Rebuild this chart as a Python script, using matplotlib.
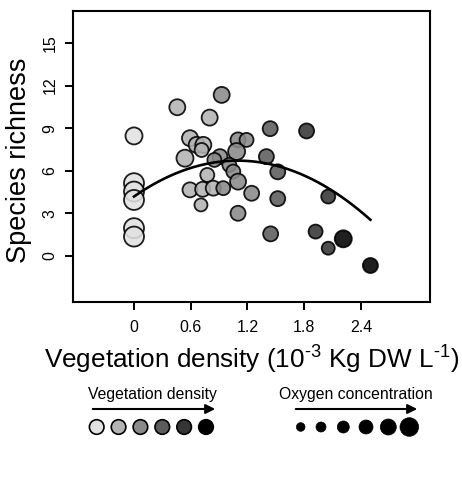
import matplotlib
matplotlib.use("Agg")
import matplotlib.pyplot as plt
import numpy as np

plt.rcParams['font.family'] = ['Liberation Sans', 'DejaVu Sans']
plt.rcParams['mathtext.fontset'] = 'custom'
plt.rcParams['mathtext.rm'] = 'Liberation Sans'
plt.rcParams['mathtext.it'] = 'Liberation Sans:italic'
plt.rcParams['mathtext.bf'] = 'Liberation Sans:bold'

# ---- data ----
veg_density = [0, 0, 0, 0, 0, 0,
               0.458, 0.80, 0.592, 0.663, 0.733, 0.715, 0.539, 0.775, 0.592, 0.726, 0.838, 0.708,
               0.927, 0.909, 0.85, 1.10, 1.19, 1.085, 1.008, 1.05, 1.10, 0.944, 1.244, 1.10,
               1.44, 1.40, 1.52, 1.52, 1.445,
               1.825, 2.054, 1.92, 2.054,
               2.213, 2.50]
richness = [8.45, 5.12, 4.53, 3.94, 1.95, 1.36,
            10.47, 9.74, 8.29, 7.82, 7.82, 7.46, 6.88, 5.70, 4.65, 4.69, 4.77, 3.59,
            11.34, 6.99, 6.76, 8.17, 8.17, 7.35, 6.41, 5.94, 5.23, 4.77, 4.41, 3.0,
            8.96, 6.99, 5.92, 4.03, 1.55,
            8.80, 4.18, 1.71, 0.54,
            1.20, -0.68]
veg_class = [0, 0, 0, 0, 0, 0,
             1, 1, 1, 1, 1, 1, 1, 1, 1, 1, 1, 1,
             2, 2, 2, 2, 2, 2, 2, 2, 2, 2, 2, 2,
             3, 3, 3, 3, 3,
             4, 4, 4, 4,
             5, 5]
diam_px = [17, 20, 20, 20, 20, 20,
           16, 16, 16, 16, 16, 14, 17, 14, 15, 15, 15, 13,
           16, 15, 14, 15, 14, 17, 14, 14, 16, 14, 15, 15,
           15, 15, 15, 15, 15,
           15, 14, 14, 13,
           17, 15]
class_colors = ['#e2e2e2', '#b3b3b3', '#8a8a8a', '#5c5c5c', '#353535', '#000000']
fit_coef = [4.18, 4.62, -2.11]   # quadratic fit: a + b x + c x^2
fit_range = [0.0, 2.5]
xticks = [0, 0.6, 1.2, 1.8, 2.4]
xticklabels = ['0', '0.6', '1.2', '1.8', '2.4']
yticks = [0, 3, 6, 9, 12, 15]
legend_oxy_diam = [8.6, 10, 12, 14, 16, 18.6]
legend_veg_diam = 14.6

DPI = 100
fig = plt.figure(figsize=(4.62, 4.80), dpi=DPI)
ax = fig.add_axes([73/462, 1-302/480, (430-73)/462, (302-11)/480])

px2pt = 72.0 / DPI
sizes = [(d * px2pt) ** 2 for d in diam_px]
cols = [class_colors[c] for c in veg_class]
ax.scatter(veg_density, richness, s=sizes, c=cols, edgecolors='black',
           linewidths=1.3, alpha=0.88, zorder=3)

xf = np.linspace(fit_range[0], fit_range[1], 200)
yf = fit_coef[0] + fit_coef[1]*xf + fit_coef[2]*xf**2
ax.plot(xf, yf, color='black', lw=1.9, zorder=4)

ax.set_xlim(-0.645, 3.13)
ax.set_ylim(-3.25, 17.25)
ax.set_xticks(xticks)
ax.set_xticklabels(xticklabels)
ax.set_yticks(yticks)
ax.set_yticklabels([str(v) for v in yticks], rotation=90, va='center')
for s in ax.spines.values():
    s.set_linewidth(1.5)
ax.tick_params(direction='out', length=6, width=1.4, labelsize=11.5, pad=7)
ax.tick_params(axis='y', pad=5)
ax.set_xlabel('Vegetation density (10$^{\u2010\\mathregular{3}}$ Kg DW L$^{\u2010\\mathregular{1}}$)',
              fontsize=18.8, labelpad=6)
ax.set_ylabel('Species richness', fontsize=19.5)
ax.yaxis.set_label_coords(-0.115, 0.488)

# ---- custom legend ----
lg = fig.add_axes([0, 0, 1, 1], facecolor='none')
lg.set_xlim(0, 462)
lg.set_ylim(480, 0)
lg.axis('off')

lg.text(152, 395, 'Vegetation density', ha='center', va='center', fontsize=11.3)
lg.annotate('', xy=(218, 409), xytext=(90, 409),
            arrowprops=dict(arrowstyle='-|>', lw=1.5, color='black', mutation_scale=14))
veg_x = np.linspace(96.7, 206, len(class_colors))
lg.scatter(veg_x, [427]*len(class_colors), s=(legend_veg_diam*px2pt)**2,
           c=class_colors, edgecolors='black', linewidths=1.2)

lg.text(356, 395, 'Oxygen concentration', ha='center', va='center', fontsize=11.3)
lg.annotate('', xy=(420, 409), xytext=(293, 409),
            arrowprops=dict(arrowstyle='-|>', lw=1.5, color='black', mutation_scale=14))
oxy_x = [300.7, 321, 343.3, 366, 388.3, 409.3]
lg.scatter(oxy_x, [427]*len(oxy_x), s=[(d*px2pt)**2 for d in legend_oxy_diam],
           c='black', edgecolors='black', linewidths=0.5)

fig.savefig('out.png', dpi=DPI)
